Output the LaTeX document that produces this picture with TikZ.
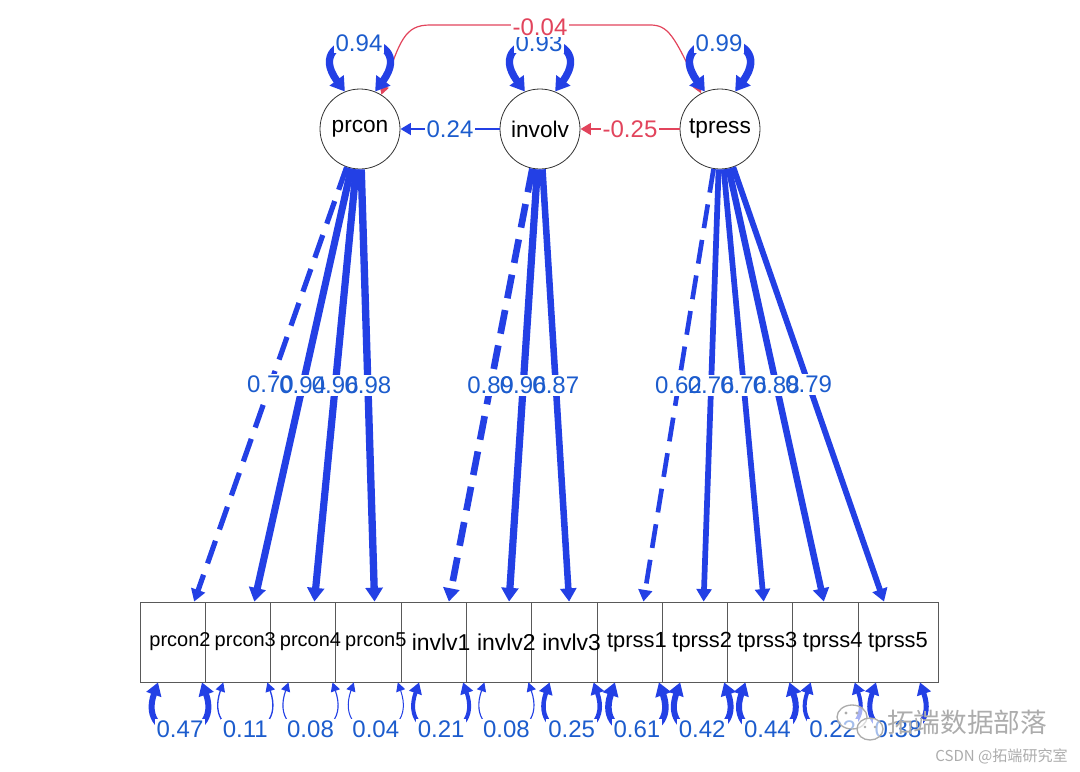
\documentclass[tikz,border=0pt]{standalone}
\usepackage{fontspec}
\setmainfont{Liberation Sans}
\newfontfamily\cjkfont{Noto Sans CJK SC}
\usetikzlibrary{arrows.meta,calc}
\definecolor{eblue}{RGB}{35,64,229}
\definecolor{lblue}{RGB}{28,92,205}
\definecolor{ered}{RGB}{226,68,92}
\definecolor{wm}{RGB}{172,172,172}
\tikzset{
  latent/.style={circle, draw=black!80, line width=0.6pt, minimum size=60pt, inner sep=0pt, fill=white, font=\fontsize{17}{17}\selectfont},
  manifest/.style={rectangle, draw=black!65, line width=0.6pt, minimum width=60pt, minimum height=60pt, inner sep=0pt, fill=white},
  mlabel/.style={inner sep=0pt},
  tipA/.style={-{Triangle[length=6pt 0.8, width=6pt 1.2]}},
  tipB/.style={{Triangle[length=6pt 0.8, width=6pt 1.2]}-{Triangle[length=6pt 0.8, width=6pt 1.2]}},
  load/.style={draw=eblue, tipA},
  fixedload/.style={load, dash pattern=on 18pt off 9pt},
  elab/.style={font=\fontsize{18}{18}\selectfont, text=lblue, inner sep=1.5pt},
  bglab/.style={elab, fill=white},
  ghostlab/.style={elab, fill=white, text opacity=0},
  pfont/.style={font=\fontsize{15}{15}\selectfont},
  ifont/.style={font=\fontsize{17.2}{17.2}\selectfont},
  tfont/.style={font=\fontsize{16.4}{16.4}\selectfont},
}
\begin{document}
\begin{tikzpicture}[x=0.75pt,y=-0.75pt]
\useasboundingbox (0,0) rectangle (1080,771);

% latent variables
\node[latent] (prcon) at (360,129) {prcon};
\node[latent] (involv) at (540,129) {involv};
\node[latent] (tpress) at (720,129) {tpress};

% manifest variables (boxes first, texts on top)
\node[manifest] (p2) at (180,642) {};
\node[manifest] (p3) at (245.3,642) {};
\node[manifest] (p4) at (310.5,642) {};
\node[manifest] (p5) at (375.8,642) {};
\node[manifest] (i1) at (441.1,642) {};
\node[manifest] (i2) at (506.4,642) {};
\node[manifest] (i3) at (571.6,642) {};
\node[manifest] (t1) at (636.9,642) {};
\node[manifest] (t2) at (702.2,642) {};
\node[manifest] (t3) at (767.4,642) {};
\node[manifest] (t4) at (832.7,642) {};
\node[manifest] (t5) at (898,642) {};
\node[mlabel,pfont] (p2l) at (p2) {prcon2};
\node[mlabel,pfont] (p3l) at (p3) {prcon3};
\node[mlabel,pfont] (p4l) at (p4) {prcon4};
\node[mlabel,pfont] (p5l) at (p5) {prcon5};
\node[mlabel,ifont] (i1l) at (i1) {invlv1};
\node[mlabel,ifont] (i2l) at (i2) {invlv2};
\node[mlabel,ifont] (i3l) at (i3) {invlv3};
\node[mlabel,tfont] (t1l) at (t1) {tprss1};
\node[mlabel,tfont] (t2l) at (t2) {tprss2};
\node[mlabel,tfont] (t3l) at (t3) {tprss3};
\node[mlabel,tfont] (t4l) at (t4) {tprss4};
\node[mlabel,tfont] (t5l) at (t5) {tprss5};

% loadings
\draw[fixedload, line width=3.9pt] (prcon) -- coordinate (m1) (p2);
\draw[load, line width=5.3pt] (prcon) -- coordinate (m2) (p3);
\draw[load, line width=5.4pt] (prcon) -- coordinate (m3) (p4);
\draw[load, line width=5.5pt] (prcon) -- coordinate (m4) (p5);
\draw[fixedload, line width=5.0pt] (involv) -- coordinate (m5) (i1);
\draw[load, line width=5.4pt] (involv) -- coordinate (m6) (i2);
\draw[load, line width=4.9pt] (involv) -- coordinate (m7) (i3);
\draw[fixedload, line width=3.5pt] (tpress) -- coordinate (m8) (t1);
\draw[load, line width=4.3pt] (tpress) -- coordinate (m9) (t2);
\draw[load, line width=4.3pt] (tpress) -- coordinate (m10) (t3);
\draw[load, line width=4.9pt] (tpress) -- coordinate (m11) (t4);
\draw[load, line width=4.4pt] (tpress) -- coordinate (m12) (t5);

\foreach \m/\v in {m1/0.70,m2/0.94,m3/0.96,m4/0.98,m5/0.89,m6/0.96,m7/0.87,m8/0.62,m9/0.76,m10/0.76,m11/0.88,m12/0.79}
  \node[ghostlab] at (\m) {\v};
\foreach \m/\v in {m1/0.70,m2/0.94,m3/0.96,m4/0.98,m5/0.89,m6/0.96,m7/0.87,m8/0.62,m9/0.76,m10/0.76,m11/0.88,m12/0.79}
  \node[elab] at (\m) {\v};

% regressions
\draw[eblue, line width=2.2pt, tipA] (involv) -- node[bglab] {0.24} (prcon);
\draw[ered, line width=2.2pt, tipA] (tpress) -- node[bglab, text=ered] {-0.25} (involv);

% covariance prcon - tpress
\draw[ered, line width=0.9pt, tipB] (prcon.58) .. controls (400,40) and (405,25) .. (430,25) -- (650,25) .. controls (668,25) and (674,35) .. (tpress.118);

% latent variances
\foreach \n/\v/\w in {prcon/0.94/5.5, involv/0.93/5.5, tpress/0.99/5.7}{
  \draw[eblue, line width=\w pt, tipB] (\n.112) .. controls ($(\n)+(-62,-101)$) and ($(\n)+(62,-101)$) .. (\n.68);
  \node[bglab] at ($(\n)+(-1,-86)$) {\v};
}
\node[bglab, text=ered] at (540,27) {-0.04};

% residual variances
\foreach \n/\v/\w in {p2/0.47/4.5, p3/0.11/1.0, p4/0.08/0.85, p5/0.04/0.75, i1/0.21/3.0, i2/0.08/0.85, i3/0.25/3.4, t1/0.61/4.9, t2/0.42/4.5, t3/0.44/4.5, t4/0.22/3.0, t5/0.38/3.8}{
  \draw[eblue, line width=\w pt, tipB] ($(\n.south)+(-22,0)$) .. controls ($(\n.south)+(-44,63)$) and ($(\n.south)+(44,63)$) .. ($(\n.south)+(22,0)$);
  \node[bglab] at ($(\n.south)+(0,47)$) {\v};
}

% watermark
\draw[wm, line width=1pt, fill=white, fill opacity=0.6] (852,717) ellipse (15 and 12);
\fill[wm] (846,713) circle (1.6) (857,713) circle (1.6);
\draw[wm, line width=1pt, fill=white, fill opacity=0.6] (870,729) ellipse (13 and 11);
\fill[wm] (865,727) circle (1.4) (875,727) circle (1.4);
\node[text=wm, font=\cjkfont\fontsize{20}{20}\selectfont, anchor=west, inner sep=0pt] (wm1) at (887,722) {拓端数据部落};
\node[text=wm, font=\cjkfont\fontsize{11.3}{11.3}\selectfont, anchor=east, inner sep=0pt] (wm2) at (1068,756) {CSDN @拓端研究室};
\end{tikzpicture}
\end{document}
